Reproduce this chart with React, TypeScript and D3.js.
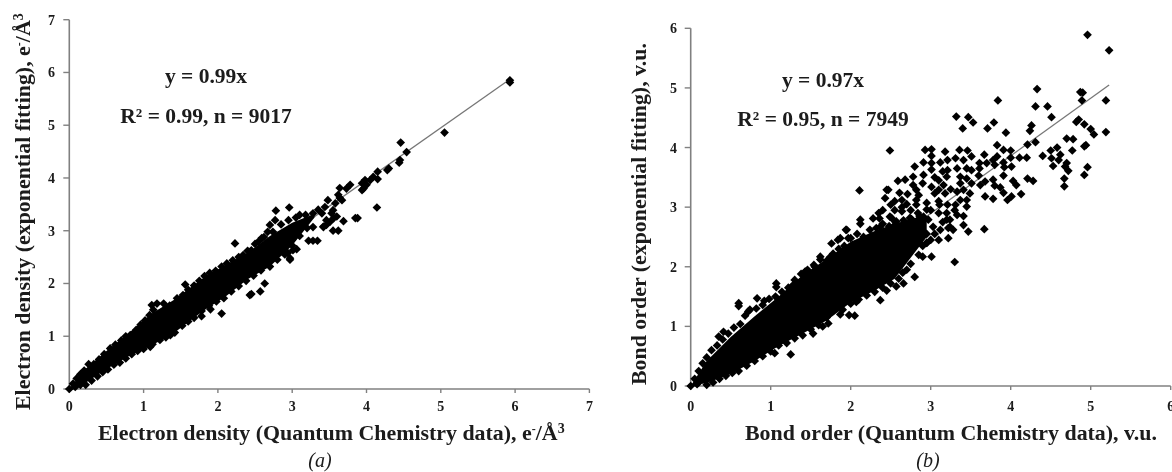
import React from 'react';
import * as d3 from 'd3';

const ticksA = [0, 1, 2, 3, 4, 5, 6, 7];
const ticksB = [0, 1, 2, 3, 4, 5, 6];

// Saturated part of each cloud
const coreAX = [0, 0.2, 0.5, 0.8, 1.1, 1.4, 1.8, 2.1, 2.4, 2.7, 3.0, 3.3];
const coreAHi = [0, 0.36, 0.72, 1.06, 1.42, 1.68, 2.1, 2.35, 2.58, 2.9, 3.15, 3.32];
const coreALo = [0, 0.1, 0.38, 0.62, 0.82, 1.05, 1.48, 1.75, 2.08, 2.32, 2.72, 3.25];
const coreBX = [0, 0.2, 0.5, 0.8, 1.1, 1.4, 1.7, 2.0, 2.3, 2.55, 2.75, 2.95];
const coreBHi = [0, 0.42, 0.82, 1.17, 1.5, 1.86, 2.13, 2.42, 2.6, 2.72, 2.8, 2.85];
const coreBLo = [0, 0.05, 0.2, 0.42, 0.67, 0.88, 1.1, 1.4, 1.6, 1.8, 2.15, 2.5];

// Markers along the edges of the saturated part
const edgeA: [number, number][] = [
  [0, 0], [0.08, 0.04], [0.05, 0.1], [0.1, 0.2], [0.15, 0.28], [0.2, 0.35], [0.26, 0.47], [0.33, 0.47], [0.4, 0.56], [0.47, 0.66], [0.55, 0.77], [0.62, 0.84], [0.7, 0.92], [0.76, 1.0], [0.82, 1.02],
  [0.9, 1.12], [0.96, 1.22], [1.02, 1.3], [1.08, 1.4], [1.2, 1.42], [1.3, 1.5], [1.35, 1.58], [1.45, 1.72], [1.53, 1.78], [1.6, 1.88], [1.68, 1.96], [1.75, 2.05], [1.82, 2.14],
  [1.89, 2.2], [1.97, 2.24], [2.05, 2.32], [2.12, 2.38], [2.2, 2.44], [2.28, 2.5], [2.34, 2.54], [2.4, 2.62], [2.5, 2.75], [2.55, 2.8], [2.62, 2.88], [2.74, 2.98], [2.85, 3.12],
  [2.95, 3.2], [3.05, 3.25], [3.18, 3.3], [3.35, 3.4],
  [0.15, 0.08], [0.22, 0.08], [0.3, 0.16], [0.38, 0.24], [0.45, 0.32], [0.52, 0.37], [0.6, 0.46], [0.68, 0.5], [0.76, 0.58], [0.84, 0.66], [0.92, 0.72], [1.0, 0.76], [1.12, 0.85],
  [1.22, 0.93], [1.3, 0.98], [1.42, 1.07], [1.52, 1.2], [1.6, 1.28], [1.68, 1.35], [1.78, 1.48], [1.88, 1.58], [1.98, 1.66], [2.08, 1.72], [2.18, 1.85], [2.28, 1.95], [2.38, 2.05],
  [2.48, 2.15], [2.58, 2.25], [2.7, 2.32], [2.8, 2.45], [2.9, 2.55], [3.0, 2.72], [3.1, 2.9], [3.2, 3.05],
];
const edgeB: [number, number][] = [
  [0, 0], [0.08, 0.03], [0.05, 0.12], [0.1, 0.25], [0.15, 0.38], [0.2, 0.48], [0.26, 0.6], [0.33, 0.68], [0.4, 0.78], [0.47, 0.88], [0.54, 0.98], [0.62, 1.04], [0.68, 1.18], [0.74, 1.28], [0.82, 1.3],
  [0.9, 1.36], [0.98, 1.46], [1.06, 1.5], [1.14, 1.58], [1.22, 1.65], [1.3, 1.78], [1.38, 1.88], [1.46, 1.95], [1.55, 2.0], [1.62, 2.12], [1.7, 2.1], [1.78, 2.22], [1.85, 2.3],
  [1.92, 2.35], [2.0, 2.48], [2.08, 2.55], [2.16, 2.5], [2.24, 2.62], [2.32, 2.65], [2.4, 2.72], [2.48, 2.68], [2.56, 2.75], [2.66, 2.78], [2.76, 2.8], [2.86, 2.85],
  [0.2, 0.02], [0.28, 0.06], [0.36, 0.12], [0.44, 0.17], [0.52, 0.22], [0.6, 0.25], [0.7, 0.34], [0.8, 0.42], [0.9, 0.5], [1.0, 0.58], [1.1, 0.68], [1.2, 0.72], [1.3, 0.8], [1.4, 0.85],
  [1.5, 0.95], [1.6, 1.02], [1.7, 1.15], [1.8, 1.3], [1.9, 1.28], [2.0, 1.38], [2.1, 1.45], [2.2, 1.52], [2.3, 1.58], [2.4, 1.65], [2.5, 1.72], [2.6, 1.8], [2.7, 1.95], [2.75, 2.05],
  [2.85, 2.2], [2.95, 2.4], [3.05, 2.55], [2.8, 2.35], [2.9, 2.35], [3.0, 2.45], [2.9, 2.6], [2.95, 2.55], [3.15, 2.75], [3.1, 2.9], [3.0, 2.95], [3.2, 2.9], [3.3, 2.95], [2.75, 2.95],
  [2.55, 2.95], [2.7, 3.05], [2.85, 2.8], [2.4, 2.95], [2.35, 2.9], [2.55, 3.1], [2.85, 3.2], [2.9, 3.4], [3.1, 3.1], [3.05, 3.5], [3.25, 3.3], [3.1, 3.45], [3.15, 3.6],
];

// Individually visible markers
const pointsA: [number, number][] = [
  [5.93, 5.81], [5.93, 5.85], [5.05, 4.86], [4.46, 4.67], [4.54, 4.49], [4.45, 4.34], [4.44, 4.29], [4.3, 4.18], [4.28, 4.15], [4.15, 4.12],
  [4.14, 3.44], [3.85, 3.24], [3.88, 3.24], [3.94, 3.77], [3.94, 3.9], [4.0, 3.87], [4.05, 3.96], [4.09, 4.02], [4.15, 3.98], [3.98, 3.96], [3.96, 3.8],
  [3.78, 3.87], [3.73, 3.8], [3.64, 3.81], [3.62, 3.68], [3.67, 3.58], [3.58, 3.52], [3.48, 3.58], [3.44, 3.45], [3.4, 3.33], [3.69, 3.18],
  [3.53, 3.33], [3.6, 3.27], [3.51, 3.17], [3.42, 3.08], [3.55, 3.0], [3.62, 3.0], [3.46, 3.2], [3.28, 2.81], [3.22, 2.81], [3.34, 2.81],
  [2.96, 3.44], [2.78, 3.38], [2.23, 2.76], [2.63, 2.0], [2.57, 1.85], [2.45, 1.8], [2.43, 1.78], [2.97, 2.48], [2.94, 2.58], [3.06, 2.65],
  [2.7, 3.11], [2.77, 3.2], [2.67, 2.98], [2.59, 2.86], [2.45, 2.63], [3.1, 3.3], [3.28, 3.33], [3.55, 3.39], [3.64, 3.62], [3.46, 3.11], [3.28, 3.07], [3.42, 3.07], [3.56, 3.24],
  [1.56, 1.98], [1.78, 1.38], [1.9, 1.51], [2.05, 1.43], [2.97, 2.45], [3.01, 2.63], [1.11, 1.59], [1.18, 1.62], [1.27, 1.62], [1.33, 1.53], [1.13, 1.5],
  [1.36, 1.02], [1.09, 0.8],
];
const pointsB: [number, number][] = [
  [4.96, 5.89], [5.23, 5.63], [4.33, 4.98], [4.87, 4.93], [4.9, 4.92], [3.84, 4.79], [4.89, 4.79], [5.19, 4.79], [4.31, 4.69], [4.46, 4.69],
  [3.32, 4.52], [3.47, 4.51], [3.53, 4.42], [3.79, 4.42], [3.4, 4.32], [3.71, 4.32], [3.94, 4.25], [4.26, 4.37], [4.24, 4.28], [4.51, 4.51],
  [4.82, 4.43], [4.85, 4.47], [4.92, 4.39], [5.0, 4.31], [5.04, 4.22], [5.19, 4.26], [4.7, 4.15], [4.78, 4.14], [4.77, 3.95], [4.94, 4.04], [4.92, 4.02],
  [4.31, 4.09], [4.21, 4.05], [4.4, 3.86], [4.5, 3.95], [4.58, 4.0], [4.62, 3.88], [4.6, 3.79], [4.51, 3.82], [4.53, 3.69], [4.7, 3.74], [4.68, 3.68], [4.72, 3.61],
  [4.96, 3.67], [4.92, 3.54], [4.67, 3.48], [4.67, 3.35], [4.11, 3.83], [4.2, 3.83], [4.21, 3.48], [4.28, 3.44], [4.13, 3.22], [4.07, 3.37], [4.03, 3.44], [4.01, 3.18], [3.96, 3.12],
  [3.91, 3.24], [3.91, 3.53], [4.0, 3.95], [4.0, 3.83], [4.01, 3.68], [3.91, 3.96], [3.83, 4.04], [3.83, 3.85], [3.78, 3.79], [3.91, 3.75], [3.92, 3.67], [3.8, 3.71],
  [3.67, 3.88], [3.7, 3.74], [3.61, 3.74], [3.61, 3.65], [3.51, 3.85], [3.46, 3.95], [3.36, 3.96], [3.31, 3.82], [3.41, 3.79], [3.33, 3.65], [3.45, 3.65], [3.51, 3.62],
  [3.37, 3.51], [3.45, 3.48], [3.51, 3.4], [3.37, 3.4], [3.33, 3.26], [3.41, 3.29], [3.49, 3.23], [3.45, 3.12], [3.37, 3.12], [3.31, 3.04], [3.21, 3.04], [3.45, 3.01],
  [3.6, 3.53], [3.62, 3.37], [3.68, 3.43], [3.78, 3.46], [3.8, 3.36], [3.87, 3.33], [3.68, 3.18], [3.78, 3.14], [3.67, 2.63], [3.47, 2.59],
  [3.41, 2.85], [3.33, 2.87], [3.24, 2.79], [3.22, 2.65], [3.28, 2.62], [3.41, 2.7], [2.93, 3.96], [3.01, 3.97], [3.01, 3.86], [3.01, 3.74], [3.01, 3.63],
  [2.91, 3.75], [2.8, 3.68], [2.91, 3.54], [3.12, 3.75], [3.18, 3.93], [3.21, 3.79], [3.21, 3.62], [3.2, 3.51], [3.16, 3.37], [3.18, 3.23], [3.11, 3.04],
  [2.49, 3.95], [2.59, 3.44], [2.68, 3.46], [2.78, 3.51], [2.78, 3.37], [2.82, 3.29], [2.47, 3.29], [2.43, 3.15], [2.61, 3.24], [2.71, 3.22], [2.5, 3.04], [2.64, 3.12], [2.64, 3.0], [2.64, 2.93],
  [2.82, 3.12], [2.82, 3.04], [3.01, 3.34], [3.1, 3.29], [3.05, 3.23], [2.95, 3.07], [2.95, 2.96], [2.91, 2.84], [2.97, 2.79], [2.84, 2.9], [2.74, 2.82], [2.28, 2.81], [2.36, 2.81],
  [2.49, 2.84], [2.57, 2.76], [2.37, 2.67], [2.53, 2.67], [2.7, 2.67], [2.87, 2.67], [3.03, 2.67], [3.12, 2.62], [2.26, 2.51], [2.11, 3.28], [2.45, 3.29], [2.12, 2.79], [2.12, 2.72],
  [1.95, 2.62], [1.87, 2.48], [2.51, 2.82], [1.94, 2.62], [1.76, 2.39], [1.84, 2.45], [1.97, 2.48], [1.62, 2.17], [1.74, 2.16], [1.54, 2.03], [1.43, 1.92], [1.28, 1.69],
  [3.3, 2.08], [3.01, 2.17], [2.9, 2.17], [2.8, 1.83], [2.66, 1.72], [2.57, 1.67], [2.45, 1.6], [2.37, 1.44], [2.07, 1.41], [1.87, 1.2], [1.98, 1.19], [2.05, 1.18], [1.7, 1.25], [1.45, 1.16],
  [3.2, 2.79], [3.24, 2.67], [3.22, 2.48], [0.6, 1.39], [0.6, 1.34], [0.35, 0.83], [0.41, 0.91], [0.83, 1.47], [1.07, 1.72], [1.07, 1.66], [0.92, 1.43], [1.28, 1.69], [0.72, 1.25],
  [1.25, 0.53], [1.05, 0.55], [1.53, 0.88], [1.65, 1.0], [1.72, 1.05], [2.65, 1.9], [2.37, 2.3], [2.7, 2.4], [2.8, 2.55], [2.95, 2.4], [3.1, 2.45],
];

const trendA: [number, number][] = [[0, 0], [5.93, 5.87]];
const trendB: [number, number][] = [[0, 0], [5.23, 5.05]];

const xA = d3.scaleLinear().domain([0, 7]).range([69.3, 589.4]);
const yA = d3.scaleLinear().domain([0, 7]).range([389, 19.7]);
const xB = d3.scaleLinear().domain([0, 6]).range([690.7, 1170.7]);
const yB = d3.scaleLinear().domain([0, 6]).range([386, 28.3]);

const diamond = d3.symbol(d3.symbolSquare, 38)()!;
const GREY = '#808080';
const INK = '#1a1a1a';
const FONT = '"Liberation Serif", serif';

function Panel({ x, y, ticks, coreX, coreHi, coreLo, points, trend, tickX, tickY }: any) {
  const core = d3.area<number>()
    .x((d) => x(d))
    .y0((_, i) => y(coreLo[i]))
    .y1((_, i) => y(coreHi[i]))(coreX)!;
  const line = d3.line<[number, number]>().x((d) => x(d[0])).y((d) => y(d[1]))(trend)!;
  const x0 = x(0);
  const y0 = y(0);
  return (
    <g>
      <line x1={x0} x2={x0} y1={y(ticks[ticks.length - 1])} y2={y0} stroke={GREY} strokeWidth={1.6} />
      <line x1={x0} x2={x(ticks[ticks.length - 1])} y1={y0} y2={y0} stroke={GREY} strokeWidth={1.6} />
      {ticks.map((t: number) => (
        <g key={t}>
          <line x1={x0 - 6} x2={x0} y1={y(t)} y2={y(t)} stroke={GREY} strokeWidth={1.4} />
          <line x1={x(t)} x2={x(t)} y1={y0} y2={y0 + 4} stroke={GREY} strokeWidth={1.4} />
          <text x={tickX} y={y(t) + 5} textAnchor="end" fontSize={14} fontWeight="bold" fontFamily={FONT} fill={INK}>{t}</text>
          <text x={x(t)} y={tickY} textAnchor="middle" fontSize={14} fontWeight="bold" fontFamily={FONT} fill={INK}>{t}</text>
        </g>
      ))}
      <path d={line} fill="none" stroke="#777" strokeWidth={1.3} />
      <path d={core} fill="#000" />
      {points.map((p: [number, number], i: number) => (
        <path key={i} d={diamond} transform={`translate(${x(p[0])},${y(p[1])}) rotate(45)`} fill="#000" />
      ))}
    </g>
  );
}

export default function App() {
  const T = { fontFamily: FONT, fontWeight: 'bold' as const, fill: INK };
  return (
    <svg width={1172} height={472} viewBox="0 0 1172 472" style={{ position: 'absolute', left: 0, top: 0, background: '#fff' }}>
      <defs>
        <filter id="soft" x="0" y="0" width="100%" height="100%">
          <feGaussianBlur stdDeviation="0.55" />
        </filter>
      </defs>
      <g filter="url(#soft)">
        <Panel x={xA} y={yA} ticks={ticksA} coreX={coreAX} coreHi={coreAHi} coreLo={coreALo} points={[...edgeA, ...pointsA]} trend={trendA} tickX={55} tickY={411} />
        <Panel x={xB} y={yB} ticks={ticksB} coreX={coreBX} coreHi={coreBHi} coreLo={coreBLo} points={[...edgeB, ...pointsB]} trend={trendB} tickX={677} tickY={411} />

        <text {...T} x={206} y={83} textAnchor="middle" fontSize={21.5}>y = 0.99x</text>
        <text {...T} x={206} y={122.5} textAnchor="middle" fontSize={21.5}>R² = 0.99, n = 9017</text>
        <text {...T} x={823} y={87} textAnchor="middle" fontSize={21.5}>y = 0.97x</text>
        <text {...T} x={823} y={126} textAnchor="middle" fontSize={21.5}>R² = 0.95, n = 7949</text>

        <text {...T} x={98} y={440} fontSize={21.9}>Electron density (Quantum Chemistry data), e<tspan dy={-7} fontSize={12}>-</tspan><tspan dy={7}>/Å</tspan><tspan dy={-7} fontSize={14}>3</tspan></text>
        <text {...T} x={745} y={440} fontSize={21.9}>Bond order (Quantum Chemistry data), v.u.</text>

        <text {...T} transform="translate(30,410) rotate(-90)" fontSize={21.9}>Electron density (exponential fitting), e<tspan dy={-7} fontSize={12}>-</tspan><tspan dy={7}>/Å</tspan><tspan dy={-7} fontSize={14}>3</tspan></text>
        <text {...T} transform="translate(646,385) rotate(-90)" fontSize={21.9}>Bond order (exponential fitting), v.u.</text>

        <text x={320} y={467} textAnchor="middle" fontSize={20} fontStyle="italic" fontFamily={FONT} fill={INK}>(a)</text>
        <text x={928} y={467} textAnchor="middle" fontSize={20} fontStyle="italic" fontFamily={FONT} fill={INK}>(b)</text>
      </g>
    </svg>
  );
}
